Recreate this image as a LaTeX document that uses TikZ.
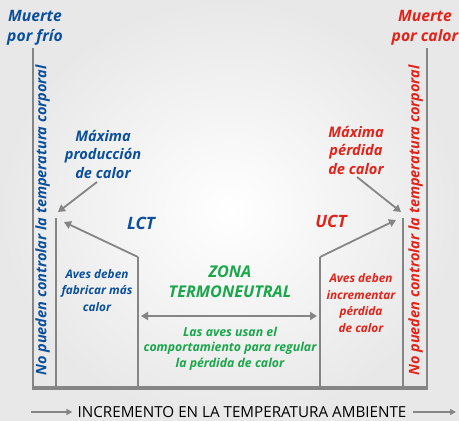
\documentclass[tikz,border=0pt]{standalone}
\usepackage{fontspec}
\setmainfont{Open Sans}
\usetikzlibrary{arrows.meta,calc}
\definecolor{cblue}{HTML}{0B4F9C}
\definecolor{cred}{HTML}{E2231A}
\definecolor{cgreen}{HTML}{1AA64A}
\definecolor{cgray}{HTML}{858585}
\begin{document}
\begin{tikzpicture}[x=1pt,y=-1pt,
  bg/.style={inner color=white, outer color=black!9},
  axis/.style={draw=cgray, line width=2pt},
  base/.style={draw=cgray, line width=4.5pt},
  ptr/.style={draw=cgray, line width=1.8pt, -{Triangle[length=7pt,width=8pt]}},
  dptr/.style={draw=cgray, line width=1.8pt, {Triangle[length=7pt,width=8pt]}-{Triangle[length=7pt,width=8pt]}},
  tptr/.style={draw=cgray, line width=1.4pt, -{Triangle[length=6pt,width=6pt]}},
  lbl/.style={align=center, inner sep=0pt},
  big/.style={lbl, font=\fontsize{15.7}{20}\selectfont\bfseries\itshape},
  maxl/.style={lbl, font=\fontsize{14.6}{18.5}\selectfont\bfseries\itshape},
  ctl/.style={lbl, font=\fontsize{17}{20}\selectfont\bfseries\itshape},
  zonal/.style={lbl, font=\fontsize{16.2}{19.5}\selectfont\bfseries\itshape},
  avesl/.style={lbl, font=\fontsize{11.8}{16.5}\selectfont\bfseries\itshape},
  usanl/.style={lbl, font=\fontsize{12.3}{15.5}\selectfont\bfseries\itshape},
  side/.style={lbl, font=\fontsize{14.5}{16}\selectfont\bfseries\itshape, rotate=90},
  axl/.style={inner sep=0pt, font=\fontsize{15.2}{17}\selectfont},
]
\shade[bg] (0,0) rectangle (459,421);
\useasboundingbox (0,0) rectangle (459,421);

% frame coordinates
\coordinate (LT) at (33,48);
\coordinate (LB) at (33,388);
\coordinate (RT) at (427,48);
\coordinate (RB) at (427,388);
\coordinate (l1t) at (56,218);
\coordinate (l1b) at (56,388);
\coordinate (l2t) at (138,257);
\coordinate (l2b) at (138,388);
\coordinate (r1t) at (403,218);
\coordinate (r1b) at (403,388);
\coordinate (r2t) at (320,257);
\coordinate (r2b) at (320,388);

\draw[axis] (LT) -- (LB);
\draw[axis] (RT) -- (RB);
\draw[axis] (l1t) -- (l1b);
\draw[axis] (l2t) -- (l2b);
\draw[axis] (r1t) -- (r1b);
\draw[axis] (r2t) -- (r2b);
\draw[base] ($(LB)+(-1,0)$) -- ($(RB)+(1,0)$);

% top labels
\node[big, text=cblue] (mfrio) at (35,28) {Muerte\\por frío};
\node[big, text=cred] (mcalor) at (425,28) {Muerte\\por calor};

% side labels
\node[side, text=cblue] (sideL) at (42.5,220.5) {No pueden controlar la temperatura corporal};
\node[side, text=cred] (sideR) at (415.5,220.5) {No pueden controlar la temperatura corporal};

% maximum labels
\node[maxl, text=cblue] (maxprod) at (103,154) {Máxima\\producción\\de calor};
\node[maxl, text=cred] (maxperd) at (356,150) {Máxima\\pérdida\\de calor};

\coordinate (a1s) at (97,182);
\coordinate (a1e) at (58,212);
\coordinate (a3s) at (357,177);
\coordinate (a3e) at (401,212);
\coordinate (a2e) at (64,222);
\coordinate (a4e) at (396,220);
\draw[ptr] (a1s) -- (a1e);
\draw[ptr] (l2t) -- (a2e);
\draw[ptr] (a3s) -- (a3e);
\draw[ptr] (r2t) -- (a4e);

\node[ctl, text=cblue] (lct) at (141,223) {LCT};
\node[ctl, text=cred] (uct) at (331,221) {UCT};

\node[avesl, text=cblue] (avesL) at (97,290.5) {Aves deben\\fabricar más\\calor};
\node[avesl, text=cred] (avesR) at (361,303) {Aves deben\\incrementar\\pérdida\\de calor};

\node[zonal, text=cgreen] (zona) at (230,281.5) {ZONA\\TERMONEUTRAL};
\coordinate (dl) at (141,316);
\coordinate (dr) at (317,316);
\draw[dptr] (dl) -- (dr);
\node[usanl, text=cgreen] (usan) at (230,348.5) {Las aves usan el\\comportamiento para regular\\la pérdida de calor};

% bottom axis text
\node[axl] (incr) at (242,412) {INCREMENTO EN LA TEMPERATURA AMBIENTE};
\coordinate (bl0) at (31,412);
\coordinate (bl1) at ($(incr.west)+(-5,0)$);
\coordinate (br0) at ($(incr.east)+(6,0)$);
\coordinate (br1) at (456,412);
\draw[tptr] (bl0) -- (bl1);
\draw[tptr] (br0) -- (br1);
\end{tikzpicture}
\end{document}
